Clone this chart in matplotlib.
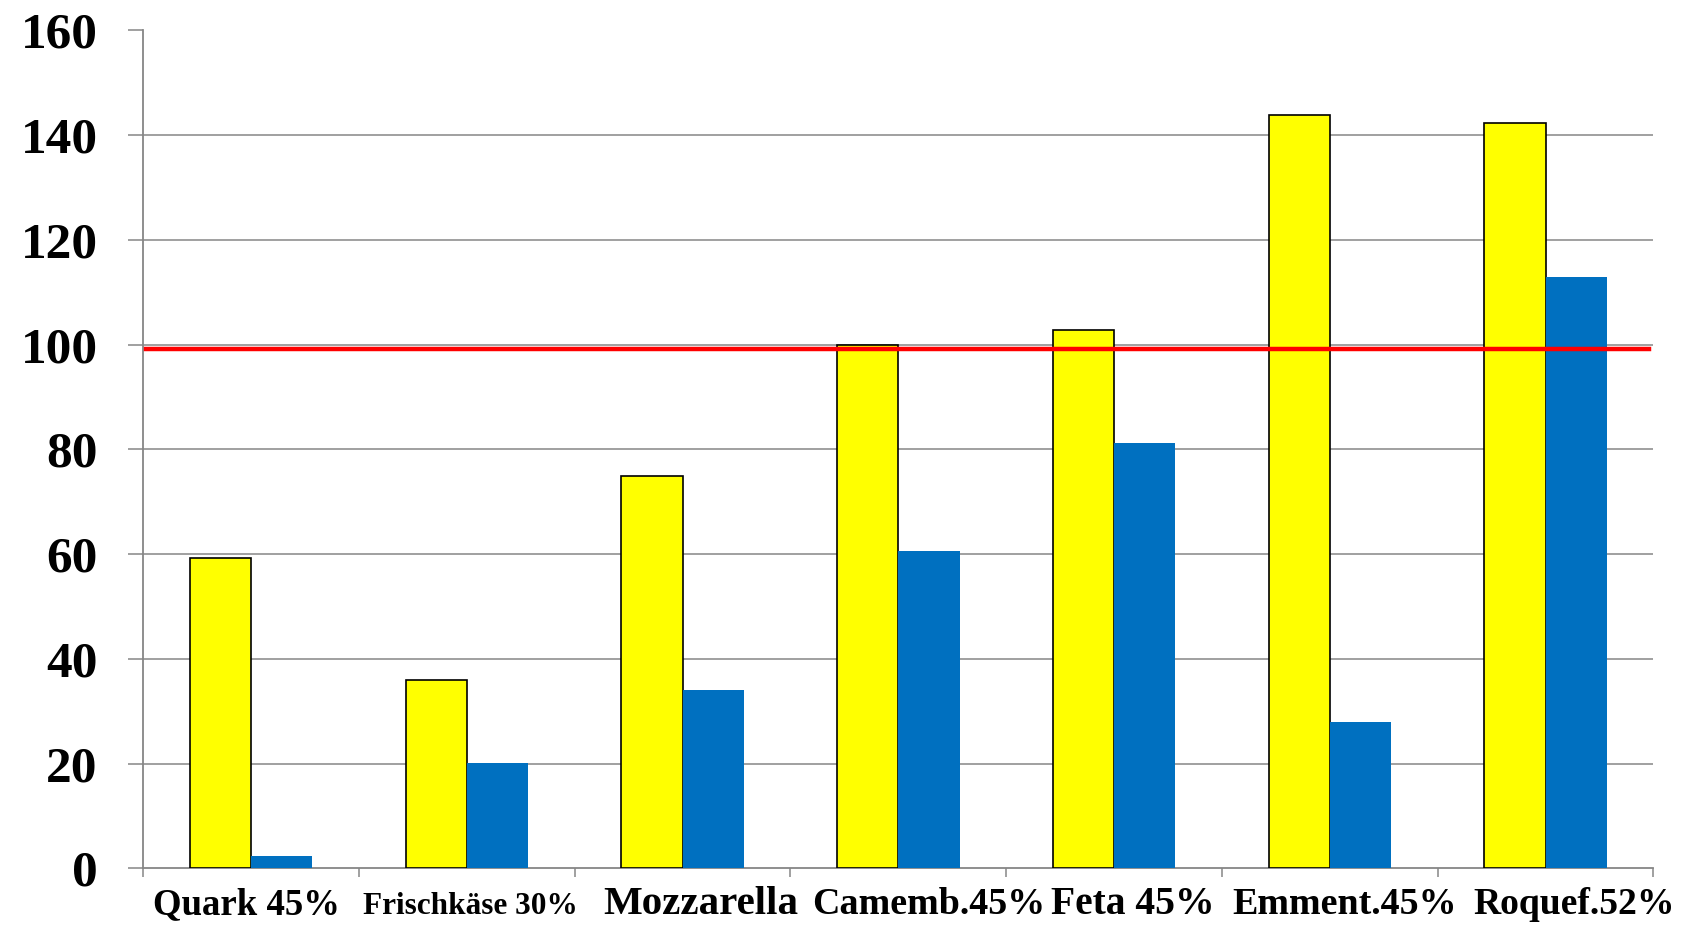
import matplotlib.pyplot as plt
from matplotlib import transforms
import numpy as np

# cheese types and their two series (per 100 g)
cheeses = ['Quark 45%', 'Frischkäse 30%', 'Mozzarella', 'Camemb.45%',
           'Feta 45%', 'Emment.45%', 'Roquef.52%']
yellow_vals = [59.3, 35.9, 75.0, 99.9, 102.8, 143.9, 142.4]
blue_vals = [2.4, 20.1, 34.0, 60.6, 81.2, 27.9, 112.9]
limit = 99.1

# label font sizes and small horizontal nudges (category units)
label_sizes = [26.5, 22.5, 29.5, 27.4, 28.5, 27.4, 27.1]
label_shift = [-0.02, 0.015, 0.085, 0.139, 0.088, 0.069, 0.134]

plt.rcParams['font.family'] = ['Liberation Serif', 'DejaVu Serif']
plt.rcParams['font.weight'] = 'bold'

fig = plt.figure(figsize=(16.82, 9.25), dpi=100)
ax = fig.add_axes([0.0852, 0.0613, 0.8978, 0.9059])

x = np.arange(len(cheeses))
w = 0.284
ax.bar(x - w / 2, yellow_vals, w, color='#FFFF00', edgecolor='black',
       linewidth=1.2, zorder=3)
ax.bar(x + w / 2, blue_vals, w, color='#0070C0', linewidth=0, zorder=3)

# red reference line
ax.axhline(limit, xmin=0.002, xmax=0.997, color='#FF0000', lw=3.2, zorder=4)

ax.set_xlim(-0.5, len(cheeses) - 0.5)
ax.set_ylim(0, 160)
ax.set_yticks(range(0, 161, 20))
ax.set_yticklabels([str(v) for v in range(0, 161, 20)], fontsize=37,
                   fontweight='bold')
ax.yaxis.grid(True, color='#868686', lw=1.1, zorder=0)
ax.get_ygridlines()[-1].set_visible(False)
ax.get_ygridlines()[0].set_visible(False)

# ticks between categories, names drawn as separate texts
ax.set_xticks(np.arange(-0.5, len(cheeses), 1.0))
ax.set_xticklabels([])
ax.tick_params(axis='x', length=6.5, width=1.1, color='#868686', direction='out')
ax.tick_params(axis='y', length=10.8, width=1.1, color='#868686', pad=22,
               direction='out')

for s in ['top', 'right']:
    ax.spines[s].set_visible(False)
for s in ['left', 'bottom']:
    ax.spines[s].set_color('#868686')
    ax.spines[s].set_linewidth(1.3)

trans = transforms.blended_transform_factory(ax.transData, ax.transAxes)
for i, name in enumerate(cheeses):
    ax.text(i + label_shift[i], -46 / 838, name, transform=trans,
            ha='center', va='baseline', fontsize=label_sizes[i],
            fontweight='bold', clip_on=False)

fig.savefig('out.png', dpi=100)
